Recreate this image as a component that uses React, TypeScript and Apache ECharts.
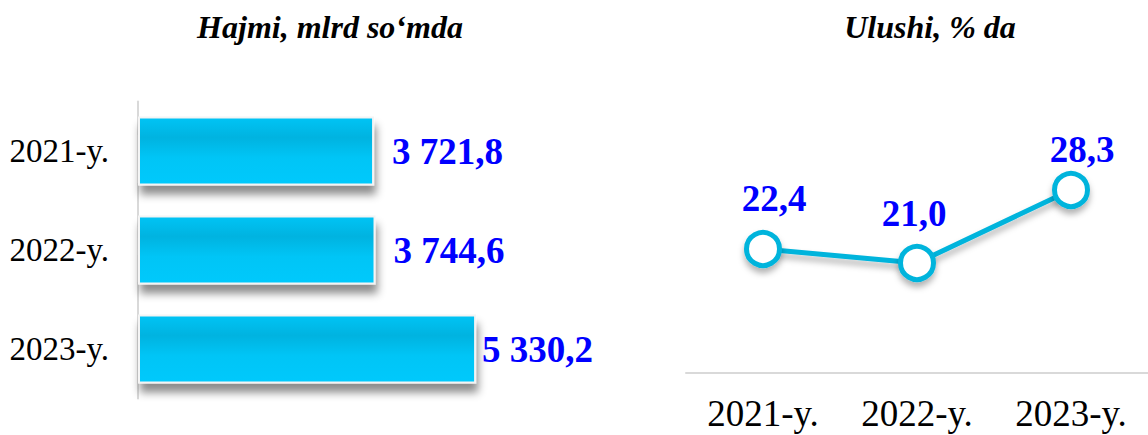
import React, { useEffect, useRef } from "react";
import * as echarts from "echarts";

const categories = ["2021-y.", "2022-y.", "2023-y."];
const volumeValues = [3721.8, 3744.6, 5330.2];
const shareValues = [22.4, 21.0, 28.3];
const barLabelDistances = [18, 18, 6];
const lineLabelDistances = [13, 12, 3];
const lineLabelShiftX = [11, -3, 11];

const fmtVolume = (v: number) => {
  const [i, d] = v.toFixed(1).split(".");
  const withSpace = i.replace(/\B(?=(\d{3})+(?!\d))/g, " ");
  return `${withSpace},${d}`;
};
const fmtShare = (v: number) => v.toFixed(1).replace(".", ",");

const SERIF = "'Liberation Serif', 'Times New Roman', serif";

export default function App() {
  const ref = useRef<HTMLDivElement>(null);
  useEffect(() => {
    if (!ref.current) return;
    const chart = echarts.init(ref.current, null, { renderer: "svg" });
    chart.setOption({
      animation: false,
      backgroundColor: "#ffffff",
      title: [
        {
          text: "Hajmi, mlrd so‘mda",
          left: 325,
          top: 6,
          textAlign: "center",
          textStyle: { fontFamily: SERIF, fontSize: 32, fontWeight: "bold", fontStyle: "italic", color: "#000" },
        },
        {
          text: "Ulushi, % da",
          left: 925,
          top: 6,
          textAlign: "center",
          textStyle: { fontFamily: SERIF, fontSize: 32, fontWeight: "bold", fontStyle: "italic", color: "#000" },
        },
      ],
      grid: [
        { left: 138, top: 101.5, width: 444, height: 297 },
        { left: 686, top: 173, width: 464, height: 200 },
      ],
      xAxis: [
        {
          gridIndex: 0,
          type: "value",
          min: 0,
          max: 7000,
          show: false,
        },
        {
          gridIndex: 1,
          type: "category",
          data: categories,
          boundaryGap: true,
          axisLine: { show: true, lineStyle: { color: "#d9d9d9", width: 2 } },
          axisTick: { show: false },
          axisLabel: { fontFamily: SERIF, fontSize: 37, color: "#000", margin: 22 },
          splitLine: { show: false },
        },
      ],
      yAxis: [
        {
          gridIndex: 0,
          type: "category",
          data: categories,
          inverse: true,
          axisLine: { show: true, lineStyle: { color: "#d9d9d9", width: 2 } },
          axisTick: { show: false },
          axisLabel: { fontFamily: SERIF, fontSize: 33, color: "#000", margin: 29 },
        },
        {
          gridIndex: 1,
          type: "value",
          min: 10,
          max: 30,
          show: false,
        },
      ],
      series: [
        {
          type: "bar",
          xAxisIndex: 0,
          yAxisIndex: 0,
          barWidth: 69,
          data: volumeValues.map((v, i) => ({
            value: v,
            label: { distance: barLabelDistances[i] },
          })),
          itemStyle: {
            color: new echarts.graphic.LinearGradient(0, 0, 0, 1, [
              { offset: 0, color: "#00c4f5" },
              { offset: 0.3, color: "#00b3e0" },
              { offset: 0.6, color: "#00c5f6" },
              { offset: 1, color: "#00c9fc" },
            ]),
            borderColor: "#f4f4f4",
            borderWidth: 2,
            shadowColor: "rgba(0,0,0,0.45)",
            shadowBlur: 8,
            shadowOffsetY: 9,
            shadowOffsetX: 2,
          },
          label: {
            show: true,
            position: "right",
            formatter: (p: any) => fmtVolume(p.value),
            fontFamily: SERIF,
            fontSize: 37,
            fontWeight: "bold",
            color: "#0000ff",
          },
        },
        {
          type: "line",
          xAxisIndex: 1,
          yAxisIndex: 1,
          data: shareValues.map((v, i) => ({
            value: v,
            label: { distance: lineLabelDistances[i], offset: [lineLabelShiftX[i], 0] },
          })),
          symbol: "circle",
          symbolSize: 33,
          lineStyle: {
            color: "#00b4dc",
            width: 5,
            shadowColor: "rgba(0,0,0,0.3)",
            shadowBlur: 6,
            shadowOffsetY: 5,
          },
          itemStyle: {
            color: "#ffffff",
            borderColor: "#00b4dc",
            borderWidth: 5,
            shadowColor: "rgba(0,0,0,0.3)",
            shadowBlur: 6,
            shadowOffsetY: 5,
          },
          label: {
            show: true,
            position: "top",
            formatter: (p: any) => fmtShare(p.value),
            fontFamily: SERIF,
            fontSize: 37,
            fontWeight: "bold",
            color: "#0000ff",
          },
        },
      ],
    });
    return () => chart.dispose();
  }, []);
  return (
    <div
      ref={ref}
      style={{ width: 1148, height: 435, position: "absolute", left: 0, top: 0 }}
    />
  );
}
